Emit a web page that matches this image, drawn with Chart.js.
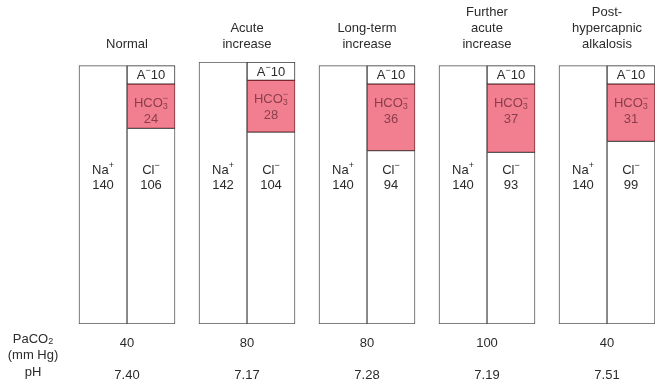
<!DOCTYPE html>
<html>
<head>
<meta charset="utf-8">
<script src="https://cdn.jsdelivr.net/npm/chart.js@4"></script>
<style>
  html, body { margin: 0; padding: 0; background: #fff; }
  #c { display: block; }
</style>
</head>
<body>
<canvas id="c" width="661" height="386"></canvas>
<script>
// 그룹 제목 (줄 단위)
const titles = [
  ['Normal'],
  ['Acute', 'increase'],
  ['Long-term', 'increase'],
  ['Further', 'acute', 'increase'],
  ['Post-', 'hypercapnic', 'alkalosis']
];
const sodium = [140, 142, 140, 140, 140];
const chloride = [106, 104, 94, 93, 99];
const bicarb = [24, 28, 36, 37, 31];
const otherAnion = [10, 10, 10, 10, 10];
const paco2 = ['40', '80', '80', '100', '40'];
const ph = ['7.40', '7.17', '7.28', '7.19', '7.51'];

const FONT = '"Liberation Sans", Arial, sans-serif';
const TEXT = '#2b2b2b';
const PINK = '#f27f90';
const PINK_EDGE = '#7a2a30';
const PINK_TEXT = '#8a3e4c';
const EDGE = '#555';

function pts(arr) {
  return arr.map((v, i) => ({ x: i, y: v }));
}

// 위첨자/아래첨자 섞인 글자 그리기
function drawRich(ctx, parts, cx, cy, color) {
  const base = '13px ' + FONT;
  const small = '9px ' + FONT;
  let total = 0;
  parts.forEach(p => {
    ctx.font = p.sub || p.sup ? small : base;
    p.w = ctx.measureText(p.t).width;
    if (p.over) {
      const w2 = ctx.measureText(p.over).width;
      p.w = Math.max(p.w, w2);
    }
    total += p.w;
  });
  let x = cx - total / 2;
  ctx.fillStyle = color;
  ctx.textAlign = 'left';
  ctx.textBaseline = 'middle';
  parts.forEach(p => {
    if (p.sup) {
      ctx.font = small;
      ctx.fillText(p.t, x, cy - 5);
    } else if (p.sub) {
      ctx.font = small;
      ctx.fillText(p.t, x, cy + 3);
      if (p.over) ctx.fillText(p.over, x, cy - 5);
    } else {
      ctx.font = base;
      ctx.fillText(p.t, x, cy);
    }
    x += p.w;
  });
}

function drawPlain(ctx, text, cx, cy, color) {
  ctx.font = '13px ' + FONT;
  ctx.fillStyle = color;
  ctx.textAlign = 'center';
  ctx.textBaseline = 'middle';
  ctx.fillText(text, cx, cy);
}

const labelPlugin = {
  id: 'labelPlugin',
  afterDatasetsDraw(chart) {
    const ctx = chart.ctx;
    const xs = chart.scales.x;
    const ys = chart.scales.y;
    const naMeta = chart.getDatasetMeta(0);
    const clMeta = chart.getDatasetMeta(1);
    const hcMeta = chart.getDatasetMeta(2);
    const aMeta = chart.getDatasetMeta(3);
    const ionRow = ys.getPixelForValue(140) + 105;

    ctx.save();
    for (let i = 0; i < titles.length; i++) {
      const cx = xs.getPixelForValue(i);

      // 제목
      const lines = titles[i];
      lines.forEach((ln, k) => {
        const y = 44 - (lines.length - 1 - k) * 16;
        drawPlain(ctx, ln, cx, y, TEXT);
      });

      // Na+
      const na = naMeta.data[i];
      drawRich(ctx, [{ t: 'Na' }, { t: '+', sup: true }], na.x, ionRow, TEXT);
      drawPlain(ctx, String(sodium[i]), na.x, ionRow + 15, TEXT);

      // Cl-
      const cl = clMeta.data[i];
      drawRich(ctx, [{ t: 'Cl' }, { t: '\u2212', sup: true }], cl.x, ionRow, TEXT);
      drawPlain(ctx, String(chloride[i]), cl.x, ionRow + 15, TEXT);

      // HCO3-
      const hc = hcMeta.data[i];
      drawRich(ctx, [{ t: 'HCO' }, { t: '3', sub: true, over: '\u2212' }], hc.x, hc.y + 19, PINK_TEXT);
      drawPlain(ctx, String(bicarb[i]), hc.x, hc.y + 35, PINK_TEXT);

      // A- 10
      const a = aMeta.data[i];
      drawRich(ctx, [{ t: 'A' }, { t: '\u2212', sup: true }, { t: '10' }], a.x, (a.y + a.base) / 2 + 1, TEXT);

      // 아래 표
      drawPlain(ctx, paco2[i], cx, 343, TEXT);
      drawPlain(ctx, ph[i], cx, 375, TEXT);
    }

    // 행 제목
    drawRich(ctx, [{ t: 'PaCO' }, { t: '2', sub: true }], 33, 339, TEXT);
    drawPlain(ctx, '(mm Hg)', 33, 355, TEXT);
    drawPlain(ctx, 'pH', 33, 372, TEXT);
    ctx.restore();
  }
};

const common = { borderWidth: 1, borderSkipped: false, barThickness: 48 };

new Chart(document.getElementById('c'), {
  type: 'bar',
  data: {
    datasets: [
      Object.assign({ label: 'Na+', data: pts(sodium), stack: 'cation', backgroundColor: '#fff', borderColor: EDGE }, common),
      Object.assign({ label: 'Cl-', data: pts(chloride), stack: 'anion', backgroundColor: '#fff', borderColor: EDGE }, common),
      Object.assign({ label: 'HCO3-', data: pts(bicarb), stack: 'anion', backgroundColor: PINK, borderColor: PINK_EDGE }, common),
      Object.assign({ label: 'A-', data: pts(otherAnion), stack: 'anion', backgroundColor: '#fff', borderColor: '#333' }, common)
    ]
  },
  options: {
    responsive: false,
    animation: false,
    layout: { padding: { left: 67, right: 6, top: 62, bottom: 62 } },
    scales: {
      x: { type: 'linear', min: -0.5, max: 4.4, offset: false, stacked: true, display: false },
      y: { min: 0, max: 142, stacked: true, display: false }
    },
    plugins: {
      legend: { display: false },
      tooltip: { enabled: false }
    }
  },
  plugins: [labelPlugin]
});
</script>
</body>
</html>
